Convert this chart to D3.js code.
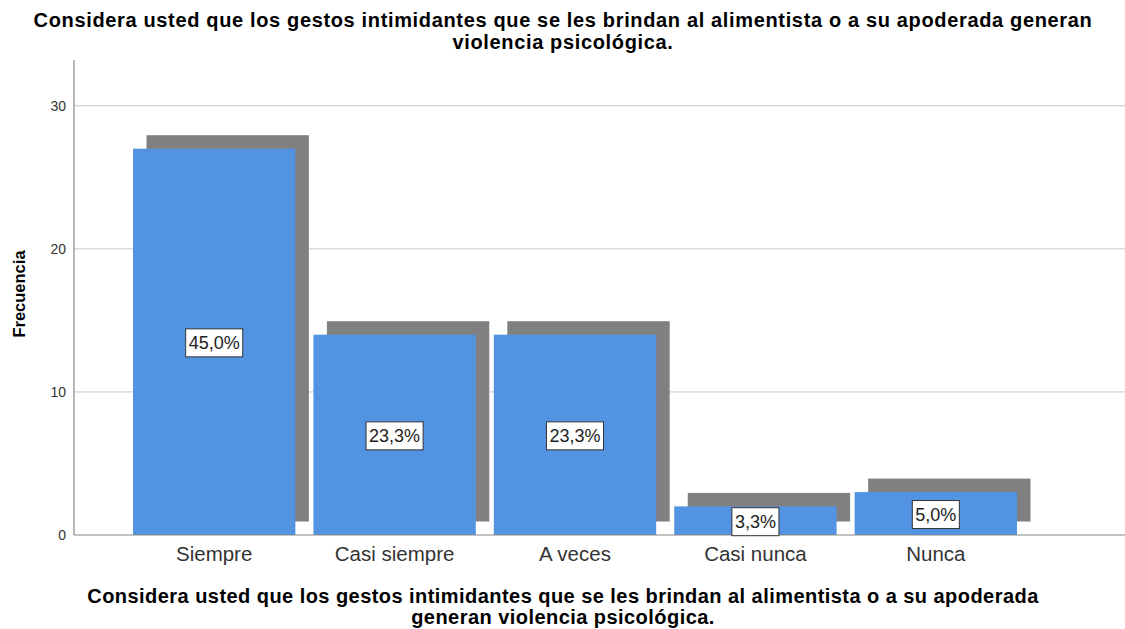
<!DOCTYPE html>
<html><head><meta charset="utf-8">
<script src="https://cdn.jsdelivr.net/npm/d3@7"></script>
<style>body{margin:0;background:#fff}svg{display:block}</style>
</head><body>
<script>
const categories = ["Siempre","Casi siempre","A veces","Casi nunca","Nunca"];
const counts = [27,14,14,2,3];
const percentLabels = ["45,0%","23,3%","23,3%","3,3%","5,0%"];
const yTicks = [0,10,20,30];
const titleLines = ["Considera usted que los gestos intimidantes que se les brindan al alimentista o a su apoderada generan","violencia psicológica."];
const xTitleLines = ["Considera usted que los gestos intimidantes que se les brindan al alimentista o a su apoderada","generan violencia psicológica."];
const yTitle = "Frecuencia";

const W=1125,H=629;
const svg=d3.select("body").append("svg").attr("width",W).attr("height",H);
const font="'Liberation Sans', Arial, sans-serif";
const x=d3.scaleBand().domain(categories).range([133,1017]).paddingInner(0.1).paddingOuter(0);
const y=d3.scaleLinear().domain([0,33.2]).range([535,60]);
const left=74,right=1125;

// gridlines
svg.append("g").selectAll("line").data(yTicks.filter(d=>d>0)).join("line")
  .attr("x1",left).attr("x2",right).attr("y1",d=>y(d)).attr("y2",d=>y(d))
  .attr("stroke","#c8c8c8").attr("stroke-width",1);

// shadows
const off=13.5;
svg.append("g").selectAll("rect").data(counts).join("rect")
  .attr("x",(d,i)=>x(categories[i])+off).attr("y",d=>y(d)-off)
  .attr("width",x.bandwidth()).attr("height",d=>y(0)-y(d))
  .attr("fill","#808080");
// bars
svg.append("g").selectAll("rect").data(counts).join("rect")
  .attr("x",(d,i)=>x(categories[i])).attr("y",d=>y(d))
  .attr("width",x.bandwidth()).attr("height",d=>y(0)-y(d))
  .attr("fill","#5294e2");

// axes
const yAxis=d3.axisLeft(y).tickValues(yTicks).tickSize(0).tickPadding(8);
const gy=svg.append("g").attr("transform",`translate(${left},0)`).call(yAxis);
gy.select(".domain").remove();
gy.selectAll("text").attr("font-family",font).attr("font-size",14).attr("fill","#333");
svg.append("line").attr("x1",left).attr("x2",left).attr("y1",y(0)).attr("y2",y(33.2)).attr("stroke","#888").attr("stroke-width",1.2);
svg.append("line").attr("x1",left).attr("x2",right).attr("y1",y(0)).attr("y2",y(0)).attr("stroke","#888").attr("stroke-width",1.2);

const xAxis=d3.axisBottom(x).tickSize(0).tickPadding(11);
const gx=svg.append("g").attr("transform",`translate(0,${y(0)})`).call(xAxis);
gx.select(".domain").remove();
gx.selectAll("text").attr("font-family",font).attr("font-size",20.5).attr("fill","#333");

// percent labels
const lg=svg.append("g").selectAll("g").data(counts).join("g")
  .attr("transform",(d,i)=>`translate(${x(categories[i])+x.bandwidth()/2},${(y(d)+y(0))/2+1})`);
lg.append("text").text((d,i)=>percentLabels[i]).attr("text-anchor","middle").attr("dy","0.36em")
  .attr("font-family",font).attr("font-size",18).attr("fill","#222");
lg.each(function(){
  const g=d3.select(this);const t=g.select("text").node().getBBox();
  g.insert("rect","text").attr("x",t.x-3).attr("y",-14).attr("width",t.width+6).attr("height",28)
   .attr("fill","#fff").attr("stroke","#333").attr("stroke-width",1);
});

// titles (one text per line)
const tg=svg.append("g").attr("font-family",font).attr("font-weight","bold").attr("font-size",20).attr("fill","#000");
tg.selectAll("text.t").data(titleLines).join("text").attr("class","t").attr("text-anchor","middle")
  .attr("letter-spacing","0.65px").attr("x",563).attr("y",(d,i)=>27+i*22).text(d=>d);
tg.selectAll("text.xt").data(xTitleLines).join("text").attr("class","xt").attr("text-anchor","middle")
  .attr("letter-spacing","0.45px").attr("x",563).attr("y",(d,i)=>603+i*20.5).text(d=>d);
svg.append("text").attr("transform","translate(25,294) rotate(-90)").attr("text-anchor","middle")
  .attr("font-family",font).attr("font-weight","bold").attr("font-size",16.5).attr("fill","#000").text(yTitle);
</script>
</body></html>
